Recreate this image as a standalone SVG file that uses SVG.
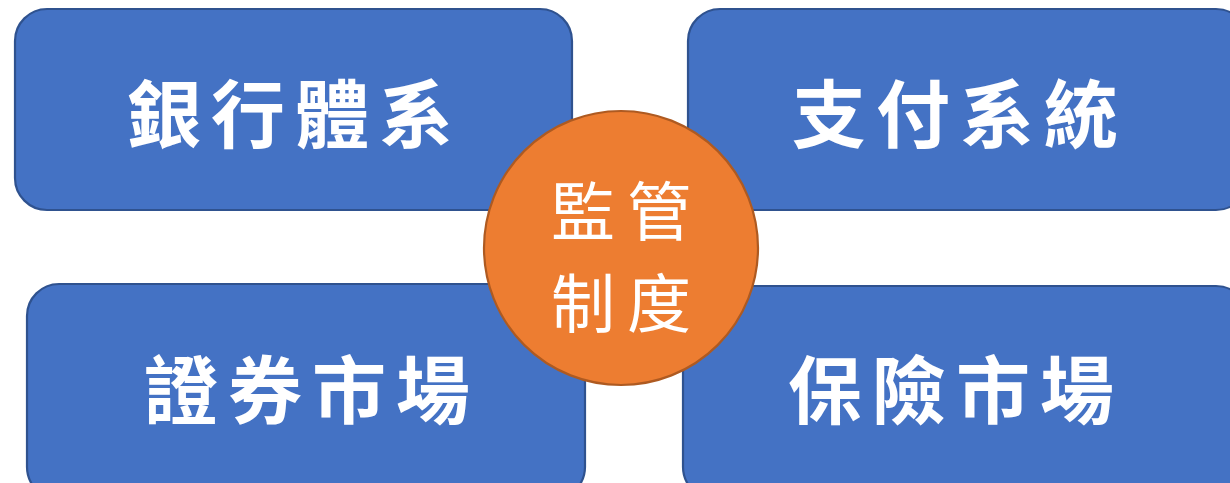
<svg xmlns="http://www.w3.org/2000/svg" width="1230" height="483" viewBox="0 0 1230 483">
  <style>
    .box { fill: #4472C4; stroke: #2F528F; stroke-width: 2.2; }
    .hub { fill: #ED7D31; stroke: #AE5A21; stroke-width: 2.2; }
    .lbl { fill: #FFFFFF; font-family: "Noto Sans CJK TC", "Noto Sans CJK SC", sans-serif; font-weight: 700; font-size: 74px; letter-spacing: 10px; text-anchor: middle; dominant-baseline: central; }
    .hubtxt { fill: #FFFFFF; font-family: "Noto Sans CJK TC", "Noto Sans CJK SC", sans-serif; font-weight: 400; font-size: 64px; letter-spacing: 12px; text-anchor: middle; dominant-baseline: central; }
  </style>
  <g id="connectors"></g>
  <g id="node-bank">
    <rect class="box" x="15" y="9" width="557" height="201" rx="32" ry="32"/>
    <text class="lbl" x="295" y="109">銀行體系</text>
  </g>
  <g id="node-payment">
    <rect class="box" x="688" y="9" width="560" height="201" rx="32" ry="32"/>
    <text class="lbl" x="960" y="109">支付系統</text>
  </g>
  <g id="node-securities">
    <rect class="box" x="27" y="284" width="558" height="215" rx="32" ry="32"/>
    <text class="lbl" x="312" y="385">證券市場</text>
  </g>
  <g id="node-insurance">
    <rect class="box" x="683" y="286" width="565" height="213" rx="32" ry="32"/>
    <text class="lbl" x="956" y="385">保險市場</text>
  </g>
  <g id="node-regulation">
    <circle class="hub" cx="621" cy="248" r="137"/>
    <text class="hubtxt" x="627" y="207">監管</text>
    <text class="hubtxt" x="627" y="299">制度</text>
  </g>
</svg>
